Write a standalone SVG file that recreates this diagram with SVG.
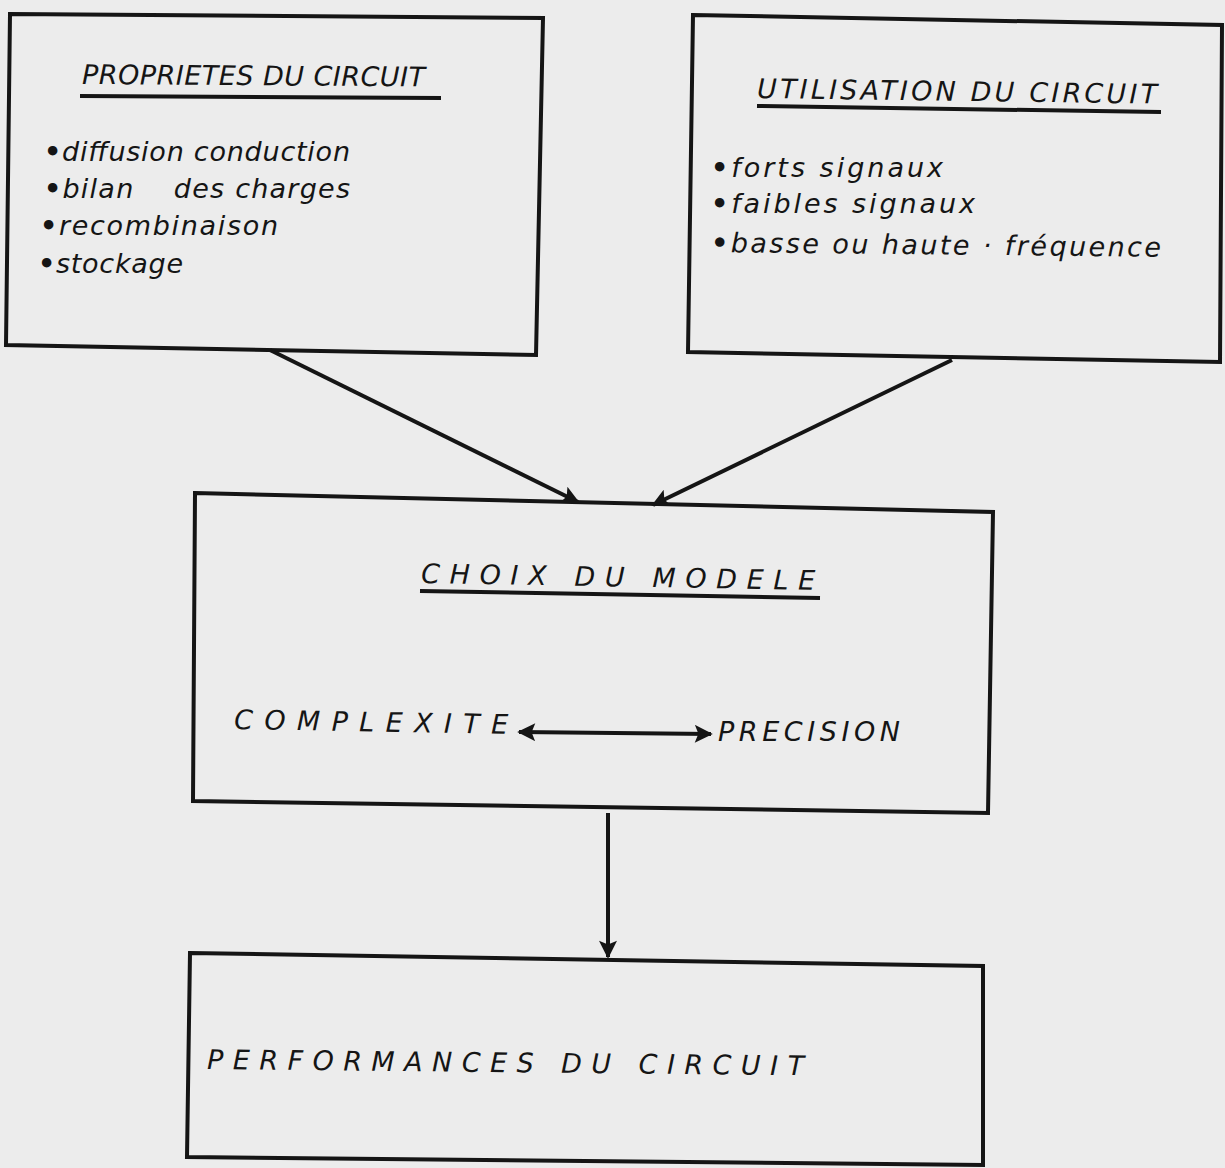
<svg xmlns="http://www.w3.org/2000/svg" width="1225" height="1168" viewBox="0 0 1225 1168">
  <style>
    .box { fill: none; stroke: #151515; stroke-width: 4; stroke-linejoin: miter; }
    .rule { stroke: #151515; stroke-width: 4; }
    .wire { stroke: #151515; stroke-width: 4; fill: none; }
    .t { font-family: "DejaVu Sans", "Liberation Sans", sans-serif; font-style: italic; fill: #151515; }
    .title { font-size: 27px; }
    .item { font-size: 27px; }
    .caps { font-size: 27px; }
    .dot { font-weight: bold; }
  </style>
  <defs>
    <marker id="head" viewBox="0 0 10 10" refX="9" refY="5" markerWidth="5" markerHeight="4.5" orient="auto-start-reverse" markerUnits="strokeWidth">
      <path d="M0,0 L10,5 L0,10 L2,5 z" fill="#151515"/>
    </marker>
  </defs>
  <rect width="1225" height="1168" fill="#ececec"/>

  <!-- connectors -->
  <g id="connectors">
    <line class="wire" x1="270" y1="350" x2="578" y2="502" marker-end="url(#head)"/>
    <line class="wire" x1="952" y1="360" x2="653" y2="505" marker-end="url(#head)"/>
    <line class="wire" x1="608" y1="813" x2="608" y2="957" marker-end="url(#head)"/>
  </g>

  <!-- circuit properties -->
  <g id="proprietes">
    <polygon class="box" points="10,14 543,18 536,355 6,345"/>
    <text class="t title" x="82" y="84" textLength="343" transform="rotate(0.4 82 84)">PROPRIETES DU CIRCUIT</text>
    <line class="rule" x1="80" y1="96" x2="441" y2="98"/>
    <text class="t item" x="44" y="161" textLength="306"><tspan class="dot">•</tspan>diffusion conduction</text>
    <text class="t item" x="44" y="198" textLength="306" xml:space="preserve"><tspan class="dot">•</tspan>bilan    des charges</text>
    <text class="t item" x="40" y="235" textLength="238"><tspan class="dot">•</tspan>recombinaison</text>
    <text class="t item" x="38" y="273" textLength="145"><tspan class="dot">•</tspan>stockage</text>
  </g>

  <!-- circuit use -->
  <g id="utilisation">
    <polygon class="box" points="693,15 1222,25 1220,362 688,352"/>
    <text class="t title" x="757" y="98" textLength="400" transform="rotate(0.8 757 98)">UTILISATION DU CIRCUIT</text>
    <line class="rule" x1="757" y1="106" x2="1161" y2="112"/>
    <text class="t item" x="711" y="177" textLength="232"><tspan class="dot">•</tspan>forts signaux</text>
    <text class="t item" x="711" y="213" textLength="264"><tspan class="dot">•</tspan>faibles signaux</text>
    <text class="t item" x="711" y="252" textLength="450" transform="rotate(0.6 711 252)"><tspan class="dot">•</tspan>basse ou haute · fréquence</text>
  </g>

  <!-- model choice -->
  <g id="choix">
    <polygon class="box" points="195,493 993,512 988,813 193,801"/>
    <text class="t caps" x="421" y="583" textLength="394" transform="rotate(1 421 583)">CHOIX DU MODELE</text>
    <line class="rule" x1="420" y1="591" x2="820" y2="598"/>
    <text class="t caps" x="234" y="729" textLength="274" transform="rotate(1 234 729)">COMPLEXITE</text>
    <line class="wire" x1="519" y1="732" x2="711" y2="734" marker-start="url(#head)" marker-end="url(#head)"/>
    <text class="t caps" x="718" y="741" textLength="182">PRECISION</text>
  </g>

  <!-- circuit performance -->
  <g id="performances">
    <polygon class="box" points="190,953 983,966 983,1165 187,1157"/>
    <text class="t caps" x="207" y="1069" textLength="597" transform="rotate(0.6 207 1069)">PERFORMANCES DU CIRCUIT</text>
  </g>
</svg>
